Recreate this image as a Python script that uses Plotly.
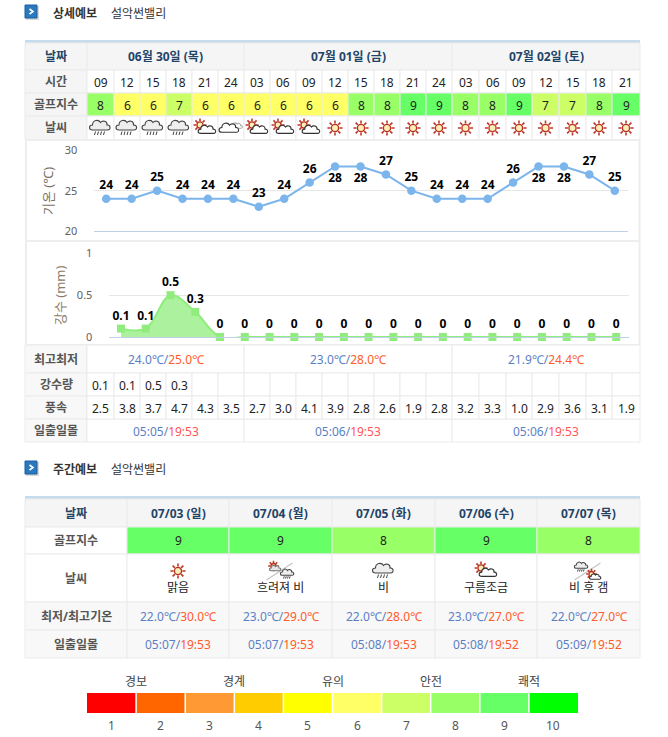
import math
import plotly.graph_objects as go

FONT = "Noto Sans, Noto Sans CJK KR"

# 상세예보 data
days = ["06월 30일 (목)", "07월 01일 (금)", "07월 02일 (토)"]
hours = ["09", "12", "15", "18", "21", "24", "03", "06", "09", "12", "15", "18", "21", "24", "03", "06", "09", "12", "15", "18", "21"]
golf_index = [8, 6, 6, 7, 6, 6, 6, 6, 6, 6, 8, 8, 9, 9, 8, 8, 9, 7, 7, 8, 9]
weather = ["rain", "rain", "rain", "rain", "suncloud", "cloud", "suncloud", "suncloud", "suncloud",
           "sun", "sun", "sun", "sun", "sun", "sun", "sun", "sun", "sun", "sun", "sun", "sun"]
temps = [24, 24, 25, 24, 24, 24, 23, 24, 26, 28, 28, 27, 25, 24, 24, 24, 26, 28, 28, 27, 25]
rain_mm = [0.1, 0.1, 0.5, 0.3, 0, 0, 0, 0, 0, 0, 0, 0, 0, 0, 0, 0, 0, 0, 0, 0, 0]
rain_cells = ["0.1", "0.1", "0.5", "0.3"] + [""] * 17
wind = ["2.5", "3.8", "3.7", "4.7", "4.3", "3.5", "2.7", "3.0", "4.1", "3.9", "2.8", "2.6", "1.9", "2.8",
        "3.2", "3.3", "1.0", "2.9", "3.6", "3.1", "1.9"]
low_temp = ["24.0℃", "23.0℃", "21.9℃"]
high_temp = ["25.0℃", "28.0℃", "24.4℃"]
sunrise = ["05:05", "05:06", "05:06"]
sunset = ["19:53", "19:53", "19:53"]

# 주간예보 data
week_days = ["07/03 (일)", "07/04 (월)", "07/05 (화)", "07/06 (수)", "07/07 (목)"]
week_golf = [9, 9, 8, 9, 8]
week_icons = ["sun", "sun_rain", "rain", "suncloud", "rain_sun"]
week_weather = ["맑음", "흐려져 비", "비", "구름조금", "비 후 갬"]
week_low = ["22.0℃", "23.0℃", "22.0℃", "23.0℃", "22.0℃"]
week_high = ["30.0℃", "29.0℃", "28.0℃", "27.0℃", "27.0℃"]
week_rise = ["05:07", "05:07", "05:08", "05:08", "05:09"]
week_set = ["19:53", "19:53", "19:53", "19:52", "19:52"]

# golf index scale
scale_colors = ["#ff0000", "#ff6600", "#ff9933", "#ffcc00", "#ffff00", "#ffff66", "#ccff66", "#99ff66", "#66ff66", "#00ff00"]
scale_groups = ["경보", "경계", "유의", "안전", "쾌적"]

# table layout, in page pixels
col_x = [87, 114, 140, 166, 192, 218, 244, 270, 296, 322, 348, 374, 400, 426, 452, 479, 506, 532, 559, 586, 612, 640]
day_x = [87, 244, 452, 640]
week_x = [25, 127, 229, 332, 435, 537, 640]
W, H = 668, 737

LINE = "#ebebeb"
HEAD_BG = "#f5f5f5"
LABEL_BG = "#f8f8f8"
LABEL_TXT = "#555555"
HEAD_TXT = "#1f4468"
BLUE = "#5b7fc4"
RED = "#ff5a2a"

shapes = []
annotations = []


def text(x, y, s, size=12, color="#222222", bold=False, angle=0):
    annotations.append(dict(x=x, y=y, xref="x", yref="y", text=s, showarrow=False, textangle=angle,
                            font=dict(family=FONT, size=size, color=color, weight=700 if bold else 400),
                            xanchor="center", yanchor="middle"))


def rect(x0, y0, x1, y1, fill, line=None, width=1):
    shapes.append(dict(type="rect", xref="x", yref="y", x0=x0, y0=y0, x1=x1, y1=y1, fillcolor=fill,
                       line=dict(color=line or "rgba(0,0,0,0)", width=width if line else 0), layer="below"))


def path(d, fill="rgba(0,0,0,0)", line="#333333", width=1):
    shapes.append(dict(type="path", xref="x", yref="y", path=d, fillcolor=fill, line=dict(color=line, width=width)))


def cell(x0, y0, x1, y1, fill="#ffffff"):
    rect(x0, y0, x1, y1, fill, LINE, 1)


def local(cx, cy, s, pts):
    return " ".join(f"{cx + a * s:.2f},{cy + b * s:.2f}" for a, b in pts)


def sun(cx, cy, s=1.0):
    rays = ""
    for i in range(8):
        a = i * math.pi / 4
        rays += f"M{cx + 4.4 * s * math.cos(a):.2f},{cy + 4.4 * s * math.sin(a):.2f} L{cx + 7.6 * s * math.cos(a):.2f},{cy + 7.6 * s * math.sin(a):.2f} "
    path(rays, line="#c0392b", width=1.6)
    r = 3.6 * s
    shapes.append(dict(type="circle", xref="x", yref="y", x0=cx - r, x1=cx + r, y0=cy - r, y1=cy + r,
                       fillcolor="#fbeeb8", line=dict(color="#b8321f", width=1.3)))


def cloud(cx, cy, s=1.0, fill="#ffffff", line="#333333", width=1.1):
    d = (f"M{local(cx, cy, s, [(-8, 4)])} C{local(cx, cy, s, [(-12, 4), (-12, -1), (-8, -1)])} "
         f"C{local(cx, cy, s, [(-8, -6), (-2, -7), (0, -3.5)])} C{local(cx, cy, s, [(2, -6), (7, -5), (6.5, -1)])} "
         f"C{local(cx, cy, s, [(10, -1.5), (11, 4), (7, 4)])} Z")
    path(d, fill=fill, line=line, width=width)


def rain_icon(cx, cy, s=1.0):
    cloud(cx, cy - 2 * s, s, fill="#eeeeee", line="#444444")
    d = ""
    for dx in (-5, -2, 1, 4):
        d += f"M{local(cx, cy, s, [(dx, 3.5)])} L{local(cx, cy, s, [(dx - 1, 7)])} "
    path(d, line="#444444", width=1)


def icon(kind, cx, cy):
    if kind == "sun":
        sun(cx, cy)
    elif kind == "rain":
        rain_icon(cx, cy)
    elif kind == "suncloud":
        sun(cx - 5, cy - 3, 0.85)
        cloud(cx + 2.5, cy + 2, 0.85)
    elif kind == "cloud":
        cloud(cx + 6, cy - 2, 0.55, line="#aaaaaa")
        cloud(cx - 1.5, cy + 0.5, 0.95)
    elif kind in ("sun_rain", "rain_sun"):
        path(f"M{cx - 14:.1f},{cy + 9:.1f} L{cx + 12:.1f},{cy - 8:.1f}", line="#c4c4c4", width=1.2)
        if kind == "sun_rain":
            sun(cx - 7, cy - 5, 0.7)
            cloud(cx - 5, cy - 2.5, 0.55, line="#777777", fill="#e4e4e4")
            rain_icon(cx + 7, cy + 3, 0.65)
        else:
            rain_icon(cx - 7, cy - 4, 0.65)
            sun(cx + 3, cy + 3, 0.7)
            cloud(cx + 7, cy + 6, 0.55)


def heading(y, title):
    rect(26, y - 6, 39, y + 8, "#d9d9d9")
    rect(25, y - 7, 37, y + 6, "#2a78bd", "#1d5f9c", 1)
    path(f"M{29.5},{y - 3} L{33},{y - 0.5} L{29.5},{y + 2}", line="#ffffff", width=1.6)
    text(74.5, y + 1, title, size=12, color="#333333", bold=True)
    text(138.5, y + 1, "설악썬밸리", size=12, color="#333333")


# ---- 상세예보 table ----
heading(12, "상세예보")
rect(25, 40, 640, 43, "#c6dcec")

rows = [(43, 70), (70, 93), (93, 116), (116, 139.5)]
cell(25, 43, 87, 70, HEAD_BG)
text(56, 56.5, "날짜", color=HEAD_TXT, bold=True)
for i, d in enumerate(days):
    cell(day_x[i], 43, day_x[i + 1], 70, HEAD_BG)
    text((day_x[i] + day_x[i + 1]) / 2, 56.5, d, color=HEAD_TXT, bold=True)

for (y0, y1), label in zip(rows[1:], ["시간", "골프지수", "날씨"]):
    cell(25, y0, 87, y1, HEAD_BG)
    text(56, (y0 + y1) / 2, label, color=LABEL_TXT, bold=True)

for i in range(21):
    x0, x1 = col_x[i], col_x[i + 1]
    xc = (x0 + x1) / 2
    cell(x0, 70, x1, 93)
    text(xc, 82, hours[i])
    cell(x0, 93, x1, 116, scale_colors[golf_index[i] - 1])
    text(xc, 105, str(golf_index[i]))
    cell(x0, 116, x1, 139.5)
    icon(weather[i], xc, 128)

# chart panels
rect(26, 140, 639.5, 241, "#ffffff", "#eeeeee", 2)
rect(26, 241, 639.5, 345, "#ffffff", "#eeeeee", 2)
text(48, 191, "기온 (℃)", size=13, color="#7c6f64", angle=-90)
text(60, 295, "강수 (mm)", size=13, color="#8c7a68", angle=-90)

lower = [(345, 373, "최고최저"), (373, 396, "강수량"), (396, 419, "풍속"), (419, 442, "일출일몰")]
for y0, y1, label in lower:
    cell(25, y0, 87, y1, LABEL_BG)
    text(56, (y0 + y1) / 2, label, color=LABEL_TXT, bold=True)

for i in range(3):
    xc = (day_x[i] + day_x[i + 1]) / 2
    cell(day_x[i], 345, day_x[i + 1], 373)
    cell(day_x[i], 419, day_x[i + 1], 442)
    text(xc, 359.5, f"<span style='color:{BLUE}'>{low_temp[i]}/</span><span style='color:{RED}'>{high_temp[i]}</span>", color=BLUE)
    text(xc, 431, f"<span style='color:{BLUE}'>{sunrise[i]}/</span><span style='color:#ff5555'>{sunset[i]}</span>", color=BLUE)

for i in range(21):
    x0, x1 = col_x[i], col_x[i + 1]
    cell(x0, 373, x1, 396)
    cell(x0, 396, x1, 419)
    text((x0 + x1) / 2, 385.5, rain_cells[i])
    text((x0 + x1) / 2, 408, wind[i])

# ---- 주간예보 table ----
heading(468, "주간예보")
rect(25, 496, 640, 499, "#c6dcec")
week_rows = [(499, 527, "날짜"), (527, 554, "골프지수"), (554, 602, "날씨"), (602, 630, "최저/최고기온"), (630, 658, "일출일몰")]
for n, (y0, y1, label) in enumerate(week_rows):
    bg = HEAD_BG if n == 0 else (LABEL_BG if n >= 3 else "#ffffff")
    cell(week_x[0], y0, week_x[1], y1, bg)
    text((week_x[0] + week_x[1]) / 2, (y0 + y1) / 2, label, color=HEAD_TXT if n == 0 else LABEL_TXT, bold=True)
    for i in range(5):
        x0, x1 = week_x[i + 1], week_x[i + 2]
        xc = (x0 + x1) / 2
        yc = (y0 + y1) / 2
        if n == 0:
            cell(x0, y0, x1, y1, HEAD_BG)
            text(xc, yc, week_days[i], color=HEAD_TXT, bold=True)
        elif n == 1:
            cell(x0, y0, x1, y1, scale_colors[week_golf[i] - 1])
            text(xc, yc, str(week_golf[i]))
        elif n == 2:
            cell(x0, y0, x1, y1)
            icon(week_icons[i], xc, 571)
            text(xc, 587, week_weather[i])
        elif n == 3:
            cell(x0, y0, x1, y1, LABEL_BG)
            text(xc, yc, f"<span style='color:{BLUE}'>{week_low[i]}/</span><span style='color:{RED}'>{week_high[i]}</span>", color=BLUE)
        else:
            cell(x0, y0, x1, y1, LABEL_BG)
            text(xc, yc, f"<span style='color:{BLUE}'>{week_rise[i]}/</span><span style='color:{RED}'>{week_set[i]}</span>", color=BLUE)

# ---- index scale ----
seg = (578 - 87) / 10
for i, c in enumerate(scale_colors):
    rect(87 + i * seg + (0.75 if i else 0), 693, 87 + (i + 1) * seg - (0.75 if i < 9 else 0), 713, c)
    text(87 + (i + 0.5) * seg, 725, str(i + 1), color="#555555")
for i, g in enumerate(scale_groups):
    text(87 + (2 * i + 1) * seg, 681, g, color="#444444")

# ---- figure ----
fig = go.Figure()
x_idx = list(range(21))

fig.add_trace(go.Scatter(x=[0, W], y=[0, H], mode="markers", marker=dict(opacity=0), cliponaxis=True,
                         showlegend=False, hoverinfo="skip"))

fig.add_trace(go.Scatter(
    x=x_idx, y=temps, xaxis="x2", yaxis="y2", mode="lines+markers+text",
    line=dict(color="#7cb5ec", width=2), marker=dict(color="#7cb5ec", size=8.5),
    text=[str(t) for t in temps], cliponaxis=False,
    textposition=["bottom center" if t == 28 else "top center" for t in temps],
    textfont=dict(family=FONT, size=12, color="#000000", weight=700, shadow="0 0 2px #ffffff"),
    showlegend=False,
))
fig.add_trace(go.Scatter(
    x=x_idx, y=rain_mm, xaxis="x3", yaxis="y3", mode="lines+markers+text",
    line=dict(color="#90ed7d", width=2, shape="spline", smoothing=1.0),
    fill="tozeroy", fillcolor="rgba(144,237,125,0.75)",
    marker=dict(color="#90ed7d", size=8, symbol="square"),
    text=[f"{r:g}" for r in rain_mm], textposition="top center", cliponaxis=False,
    textfont=dict(family=FONT, size=12, color="#000000", weight=700, shadow="0 0 2px #ffffff"),
    showlegend=False,
))

hidden = dict(visible=False, fixedrange=True, automargin=False)
grid = dict(gridcolor="#e6e6e6", gridwidth=1, zeroline=False, showline=False, ticks="outside", ticklen=13,
            tickcolor="rgba(0,0,0,0)", tickfont=dict(family=FONT, size=11, color="#606060"), automargin=False)
fig.update_layout(
    width=W, height=H, autosize=False,
    margin=dict(l=0, r=0, t=0, b=0),
    paper_bgcolor="#ffffff", plot_bgcolor="rgba(0,0,0,0)",
    shapes=shapes, annotations=annotations, showlegend=False,
    xaxis=dict(range=[0, W], domain=[0, 1], **hidden),
    yaxis=dict(range=[H, 0], domain=[0, 1], **hidden),
    xaxis2=dict(range=[-0.5, 20.5], domain=[93.5 / W, 627.5 / W], anchor="y2", showgrid=False, showticklabels=False,
                zeroline=False, showline=True, linecolor="#c0d0e6", linewidth=1, ticks="", automargin=False),
    yaxis2=dict(range=[20, 30], domain=[1 - 231 / H, 1 - 150.3 / H], anchor="x2", tickvals=[20, 25, 30], **grid),
    xaxis3=dict(range=[-0.5, 20.5], domain=[108.6 / W, 628.6 / W], anchor="y3", showgrid=False, showticklabels=False,
                zeroline=False, showline=True, linecolor="#c0d0e6", linewidth=1, ticks="", automargin=False),
    yaxis3=dict(range=[0, 1], domain=[1 - 337 / H, 1 - 253.3 / H], anchor="x3", tickvals=[0, 0.5, 1],
                ticktext=["0", "0.5", "1"], **grid),
)

fig.write_html("out.html", config=dict(displayModeBar=False),
               post_script="document.body.style.margin='0';document.body.style.overflow='hidden';")
